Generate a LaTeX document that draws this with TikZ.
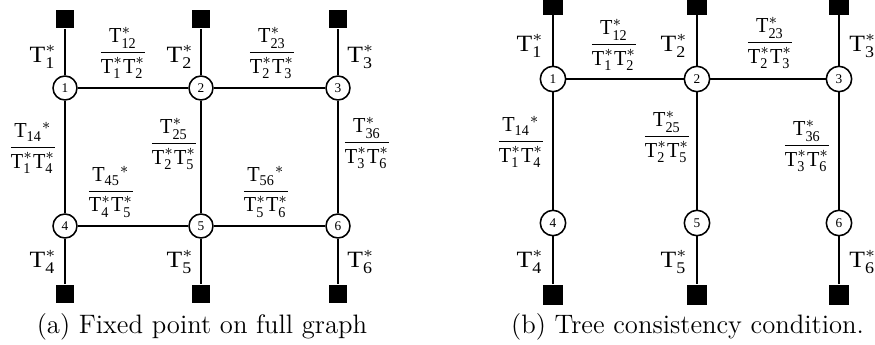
\documentclass[tikz,border=0pt]{standalone}
\usepackage{amsmath}
\usepackage{fontspec}
\setmainfont{Liberation Serif}
\newfontfamily\capfont{Latin Modern Roman}
\usetikzlibrary{positioning}
\tikzset{
  vtx/.style={circle,draw,fill=white,line width=0.7pt,inner sep=0pt,
    minimum size=#1,font=\fontsize{6}{7}\selectfont},
  vtx/.default=10.8pt,
  term/.style={fill=black,inner sep=0pt,minimum size=#1},
  term/.default=8.5pt,
  edge/.style={line width=0.8pt},
  bigT/.style={inner sep=0pt,font=\fontsize{10.5}{12}\selectfont,xscale=1.1},
  ratio/.style={inner sep=0pt,font=\fontsize{9.6}{11}\selectfont,xscale=0.95},
  capline/.style={anchor=base,font=\capfont\large},
}
\newcommand{\Tst}[1]{\text{T}^{\ast}_{\text{#1}}}
\newcommand{\Tfr}[3]{$\dfrac{#1}{\Tst{#2}\Tst{#3}}$}

\begin{document}
\begin{tikzpicture}[x=0.45pt,y=-0.45pt]
  \useasboundingbox (0,0) rectangle (875,345);
  \clip (0,0) rectangle (875,345);

  % (a) full graph
  \foreach \n/\x/\y/\t in {1/65/88/19,2/201/88/19,3/338/88/19,4/65/226/294,5/201/226/294,6/338/226/294}{
    \node[vtx] (a\n) at (\x,\y) {\n};
    \node[term] (sa\n) at (\x,\t) {};
    \draw[edge] (sa\n) -- (a\n);
  }
  \foreach \u/\v in {1/2,2/3,4/5,5/6,1/4,2/5,3/6} \draw[edge] (a\u) -- (a\v);
  \foreach \n/\x/\y/\s in {1/57/57/east,2/194/57/east,3/347/57/west,4/57/262/east,5/194/262/east,6/347/262/west}
    \node[bigT,anchor=\s] (ta\n) at (\x,\y) {$\Tst{\n}$};
  \node[ratio] (fa12) at (123,53) {\Tfr{\Tst{12}}{1}{2}};
  \node[ratio] (fa23) at (272,53) {\Tfr{\Tst{23}}{2}{3}};
  \node[ratio] (fa14) at (33,148) {\Tfr{\text{T}_{\text{14}}{}^{\ast}}{1}{4}};
  \node[ratio] (fa25) at (174,144) {\Tfr{\Tst{25}}{2}{5}};
  \node[ratio] (fa36) at (367,143) {\Tfr{\Tst{36}}{3}{6}};
  \node[ratio] (fa45) at (111,192) {\Tfr{\text{T}_{\text{45}}{}^{\ast}}{4}{5}};
  \node[ratio] (fa56) at (266,192) {\Tfr{\text{T}_{\text{56}}{}^{\ast}}{5}{6}};
  \node[capline] (capa) at (202,333) {(a) Fixed point on full graph};

  % (b) spanning tree
  \foreach \n/\x/\y/\t in {1/553/79/5,2/697/79/5,3/839/79/5,4/553/223/294.5,5/697/223/294.5,6/839/223/294.5}{
    \node[vtx=11.4pt] (b\n) at (\x,\y) {\n};
    \node[term=9pt] (sb\n) at (\x,\t) {};
    \draw[edge] (sb\n) -- (b\n);
  }
  \foreach \u/\v in {1/2,2/3,1/4,2/5,3/6} \draw[edge] (b\u) -- (b\v);
  \foreach \n/\x/\y/\s in {1/544/46/east,2/688/46/east,3/849/46/west,4/544/262/east,5/688/262/east,6/849/262/west}
    \node[bigT,anchor=\s] (tb\n) at (\x,\y) {$\Tst{\n}$};
  \node[ratio] (fb12) at (614,45) {\Tfr{\Tst{12}}{1}{2}};
  \node[ratio] (fb23) at (770,43) {\Tfr{\Tst{23}}{2}{3}};
  \node[ratio] (fb14) at (521,142) {\Tfr{\text{T}_{\text{14}}{}^{\ast}}{1}{4}};
  \node[ratio] (fb25) at (667,137) {\Tfr{\Tst{25}}{2}{5}};
  \node[ratio] (fb36) at (807,146) {\Tfr{\Tst{36}}{3}{6}};
  \node[capline] (capb) at (687.5,333) {(b) Tree consistency condition.};
\end{tikzpicture}
\end{document}
